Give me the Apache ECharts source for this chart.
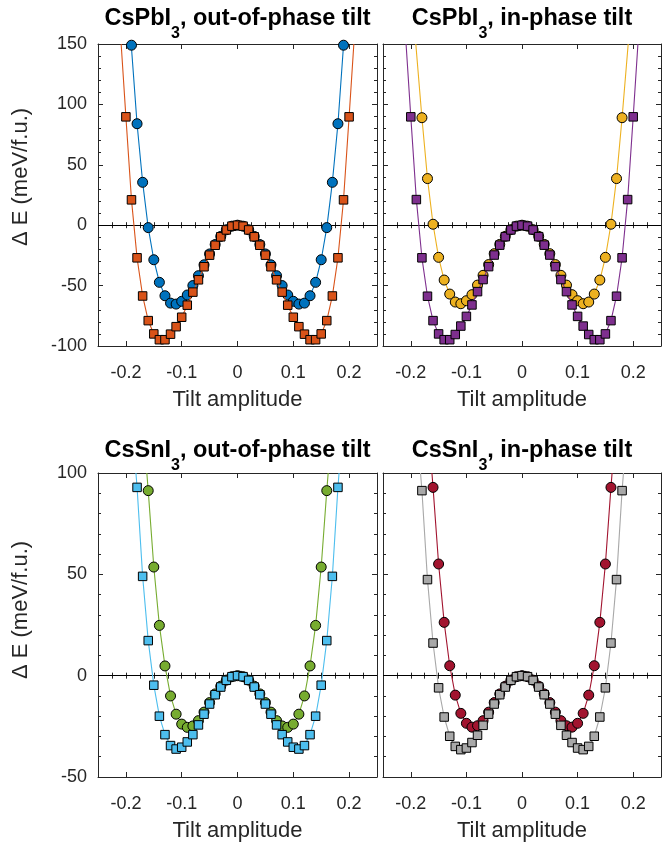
<!DOCTYPE html>
<html>
<head>
<meta charset="utf-8">
<script src="https://cdn.jsdelivr.net/npm/echarts@6/dist/echarts.min.js"></script>
<style>
  html, body { margin: 0; padding: 0; background: #fff; }
  #chart { width: 667px; height: 844px; }
</style>
</head>
<body>
<div id="chart"></div>
<script>
// tilt amplitudes where the energies were computed
const tilt = [-0.2, -0.19, -0.18, -0.17, -0.16, -0.15, -0.14, -0.13, -0.12, -0.11, -0.1,
  -0.09, -0.08, -0.07, -0.06, -0.05, -0.04, -0.03, -0.02, -0.01, 0,
  0.01, 0.02, 0.03, 0.04, 0.05, 0.06, 0.07, 0.08, 0.09, 0.1,
  0.11, 0.12, 0.13, 0.14, 0.15, 0.16, 0.17, 0.18, 0.19, 0.2];

// CsPbI3, out-of-phase tilt (meV/f.u.)
const pbOutCircle = [null, 149, 84, 35.5, -2, -28.6, -47.3, -58.4, -64.5, -65.3, -63,
  -57.8, -50, -41.8, -32.8, -23.8, -16, -9.3, -3.8, -0.8, 0,
  -0.8, -3.8, -9.3, -16, -23.8, -32.8, -41.8, -50, -57.8, -63,
  -65.3, -64.5, -58.4, -47.3, -28.6, -2, 35.5, 84, 149, null];
const pbOutSquare = [89.7, 21, -27, -58.6, -79, -90, -94.8, -94.8, -90.2, -84, -76.2,
  -66.2, -55.4, -45.2, -34.4, -24.8, -16.6, -9.6, -3.9, -0.8, 0,
  -0.8, -3.9, -9.6, -16.6, -24.8, -34.4, -45.2, -55.4, -66.2, -76.2,
  -84, -90.2, -94.8, -94.8, -90, -79, -58.6, -27, 21, 89.7];

// CsPbI3, in-phase tilt
const pbInCircle = [null, null, 89, 38.6, 0.8, -26.6, -45.4, -57, -63.6, -65, -62.5,
  -57.5, -49.6, -41.5, -32.6, -23.6, -15.9, -9.2, -3.7, -0.8, 0,
  -0.8, -3.7, -9.2, -15.9, -23.6, -32.6, -41.5, -49.6, -57.5, -62.5,
  -65, -63.6, -57, -45.4, -26.6, 0.8, 38.6, 89, null, null];
const pbInSquare = [89.7, 21.2, -27, -58.8, -79, -90, -94.8, -94.8, -90.5, -83.5, -75.5,
  -66, -55, -45, -34.3, -24.7, -16.5, -9.5, -3.9, -0.8, 0,
  -0.8, -3.9, -9.5, -16.5, -24.7, -34.3, -45, -55, -66, -75.5,
  -83.5, -90.5, -94.8, -94.8, -90, -79, -58.8, -27, 21.2, 89.7];

// CsSnI3, out-of-phase tilt
const snOutCircle = [null, null, null, null, 91.3, 53.6, 24.8, 4.8, -10, -19, -23.9,
  -25.5, -24.8, -22.2, -18, -13.3, -9, -5.2, -2.2, -0.5, 0,
  -0.5, -2.2, -5.2, -9, -13.3, -18, -22.2, -24.8, -25.5, -23.9,
  -19, -10, 4.8, 24.8, 53.6, 91.3, null, null, null, null];
const snOutSquare = [null, null, 92.9, 49, 17.3, -4.7, -20, -29.1, -34.5, -36.2, -35.3,
  -32.7, -29.1, -24.3, -19, -14, -9.4, -5.6, -2.3, -0.5, 0,
  -0.5, -2.3, -5.6, -9.4, -14, -19, -24.3, -29.1, -32.7, -35.3,
  -36.2, -34.5, -29.1, -20, -4.7, 17.3, 49, 92.9, null, null];

// CsSnI3, in-phase tilt
const snInCircle = [null, null, null, null, 92.9, 55.1, 26.3, 4.9, -9.6, -18.6, -23.5,
  -25.4, -24.7, -22.2, -18, -13.3, -9, -5.2, -2.2, -0.5, 0,
  -0.5, -2.2, -5.2, -9, -13.3, -18, -22.2, -24.7, -25.4, -23.5,
  -18.6, -9.6, 4.9, 26.3, 55.1, 92.9, null, null, null, null];
const snInSquare = [null, null, 91.3, 47.4, 16.1, -6, -20.4, -29.9, -34.9, -36.5, -35.7,
  -33, -29.4, -24.5, -19, -14, -9.4, -5.6, -2.3, -0.5, 0,
  -0.5, -2.3, -5.6, -9.4, -14, -19, -24.5, -29.4, -33, -35.7,
  -36.5, -34.9, -29.9, -20.4, -6, 16.1, 47.4, 91.3, null, null];

// |tilt| at which each fitted curve leaves the top of its panel
const pbOutExit = [0.1905, 0.2085];
const pbInExit = [0.191, 0.2085];
const snOutExit = [0.1625, 0.182];
const snInExit = [0.162, 0.1825];

const yTop = [150, 150, 100, 100];
const yBottom = [-100, -100, -50, -50];
const xTicks = [-0.2, -0.1, 0, 0.1, 0.2];

const titles = [
  ['CsPbI', ', out-of-phase tilt'],
  ['CsPbI', ', in-phase tilt'],
  ['CsSnI', ', out-of-phase tilt'],
  ['CsSnI', ', in-phase tilt']
];

const panels = [
  { circle: pbOutCircle, square: pbOutSquare, exit: pbOutExit, colors: ['#0072BD', '#D95319'] },
  { circle: pbInCircle, square: pbInSquare, exit: pbInExit, colors: ['#EDB120', '#7E2F8E'] },
  { circle: snOutCircle, square: snOutSquare, exit: snOutExit, colors: ['#77AC30', '#4DBEEE'] },
  { circle: snInCircle, square: snInSquare, exit: snInExit, colors: ['#A2142F', '#A8A8A8'] }
];

const grids = [
  { left: 98, top: 44, width: 279, height: 302 },
  { left: 383, top: 44, width: 278, height: 302 },
  { left: 98, top: 473, width: 279, height: 304 },
  { left: 383, top: 473, width: 278, height: 304 }
];

const font = 'Liberation Sans, Arial, Helvetica, sans-serif';
const ink = '#262626';

const xAxes = [];
const yAxes = [];
const series = [];

grids.forEach((g, i) => {
  const firstCol = i % 2 === 0;
  const xBase = xAxes.length;
  const yBase = yAxes.length;

  ['bottom', 'top'].forEach(pos => {
    xAxes.push({
      gridIndex: i, type: 'value', min: -0.25, max: 0.25, position: pos,
      axisLine: { show: true, onZero: false, lineStyle: { color: ink, width: 1 } },
      axisTick: { show: true, inside: true, length: 5, lineStyle: { color: ink } },
      axisLabel: {
        show: pos === 'bottom', showMinLabel: false, showMaxLabel: false,
        margin: 18, fontSize: 18, color: ink, fontFamily: font,
        formatter: v => (xTicks.indexOf(+v.toFixed(2)) >= 0 ? String(+v.toFixed(2)) : '')
      },
      splitLine: { show: false },
      name: pos === 'bottom' ? 'Tilt amplitude' : '',
      nameLocation: 'middle', nameGap: 43,
      nameTextStyle: { fontSize: 22, color: ink, fontFamily: font }
    });
  });
  // minor ticks along x
  ['bottom', 'top'].forEach(pos => {
    xAxes.push({
      gridIndex: i, type: 'value', min: -0.25, max: 0.25, interval: 0.025, position: pos,
      axisLine: { show: false },
      axisTick: { show: true, inside: true, length: 3, lineStyle: { color: ink } },
      axisLabel: { show: false },
      splitLine: { show: false }
    });
  });

  ['left', 'right'].forEach(pos => {
    yAxes.push({
      gridIndex: i, type: 'value', min: yBottom[i], max: yTop[i], interval: 50, position: pos,
      axisLine: { show: true, onZero: false, lineStyle: { color: ink, width: 1 } },
      axisTick: { show: true, inside: true, length: 5, lineStyle: { color: ink } },
      minorTick: { show: true, splitNumber: 5, length: 3, lineStyle: { color: ink } },
      axisLabel: { show: pos === 'left' && firstCol, margin: 11, fontSize: 18, color: ink, fontFamily: font },
      splitLine: { show: false }
    });
  });

  // zero line
  series.push({
    type: 'line', xAxisIndex: xBase, yAxisIndex: yBase, data: [], z: 1, silent: true,
    markLine: {
      silent: true, symbol: 'none', z: 1, label: { show: false },
      lineStyle: { color: '#000', width: 1, type: 'solid' },
      data: [{ yAxis: 0 }]
    }
  });

  const p = panels[i];
  [['circle', p.circle, 10, p.exit[0], p.colors[0]],
   ['rect', p.square, 8.5, p.exit[1], p.colors[1]]].forEach(([sym, vals, size, ex, color], k) => {
    const pts = [];
    tilt.forEach((x, j) => { if (vals[j] !== null) pts.push([x, vals[j]]); });
    const data = [{ value: [-ex, yTop[i]], symbol: 'none' }]
      .concat(pts.map(v => ({ value: v })))
      .concat([{ value: [ex, yTop[i]], symbol: 'none' }]);
    series.push({
      type: 'line', xAxisIndex: xBase, yAxisIndex: yBase, data: data,
      symbol: sym, symbolSize: size, showAllSymbol: true, clip: true, z: 2 + k,
      itemStyle: { color: color, borderColor: '#000', borderWidth: 1 },
      lineStyle: { color: color, width: 1.1 },
      emphasis: { disabled: true }
    });
  });
});

const graphic = titles.map((t, i) => ({
  type: 'text',
  x: grids[i].left + grids[i].width / 2,
  y: i < 2 ? 19 : 451,
  style: {
    text: '{b|' + t[0] + '}{s|3}{b|' + t[1] + '}',
    align: 'center', verticalAlign: 'middle',
    rich: {
      b: { fontSize: 23.5, fontWeight: 'bold', fontFamily: font, fill: '#000', color: '#000' },
      s: { fontSize: 16, fontWeight: 'bold', fontFamily: font, fill: '#000', color: '#000',
           verticalAlign: 'bottom', padding: [30, 0, 0, 0] }
    }
  }
})).concat([177, 610].map(cy => ({
  type: 'text',
  x: 21, y: cy, rotation: Math.PI / 2,
  style: {
    text: '\u0394 E (meV/f.u.)', align: 'center', verticalAlign: 'middle',
    fontSize: 22, fontFamily: font, fill: ink
  }
})));

const chart = echarts.init(document.getElementById('chart'));
chart.setOption({
  animation: false,
  backgroundColor: '#fff',
  grid: grids.map(g => Object.assign({ containLabel: false }, g)),
  xAxis: xAxes,
  yAxis: yAxes,
  series: series,
  graphic: graphic
});
</script>
</body>
</html>
